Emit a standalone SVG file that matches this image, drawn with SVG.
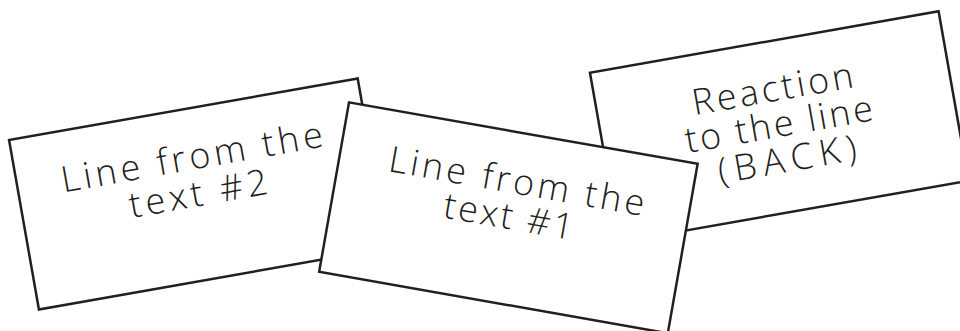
<svg xmlns="http://www.w3.org/2000/svg" width="960" height="331" viewBox="0 0 960 331">
  <style>
    .card { fill: #ffffff; stroke: #231f20; stroke-width: 2.5; stroke-linejoin: miter; }
    .lbl { font-family: "Open Sans", "DejaVu Sans", sans-serif; font-weight: 300; font-size: 36px; fill: #231f20; text-anchor: middle; }
  </style>
  <rect width="960" height="331" fill="#ffffff"/>
  <g id="card-text2" transform="translate(198.3,194) rotate(-10)">
    <rect class="card" x="-177" y="-86" width="354" height="172"/>
    <text class="lbl" x="0" y="-25" textLength="265" lengthAdjust="spacing">Line from the</text>
    <text class="lbl" x="0" y="12" textLength="140" lengthAdjust="spacing">text #2</text>
  </g>
  <g id="card-reaction" transform="translate(779.2,126.7) rotate(-10)">
    <rect class="card" x="-177" y="-86" width="354" height="172"/>
    <text class="lbl" x="0" y="-26" textLength="163" lengthAdjust="spacing">Reaction</text>
    <text class="lbl" x="0" y="10" textLength="190" lengthAdjust="spacing">to the line</text>
    <text class="lbl" x="2" y="46" textLength="140" lengthAdjust="spacing">(BACK)</text>
  </g>
  <g id="card-text1" transform="translate(508.4,217.8) rotate(10)">
    <rect class="card" x="-177" y="-86" width="354" height="172"/>
    <text class="lbl" x="2" y="-25" textLength="259" lengthAdjust="spacing">Line from the</text>
    <text class="lbl" x="0" y="11" textLength="131" lengthAdjust="spacing">text #1</text>
  </g>
  <g id="connectors"></g>
</svg>
